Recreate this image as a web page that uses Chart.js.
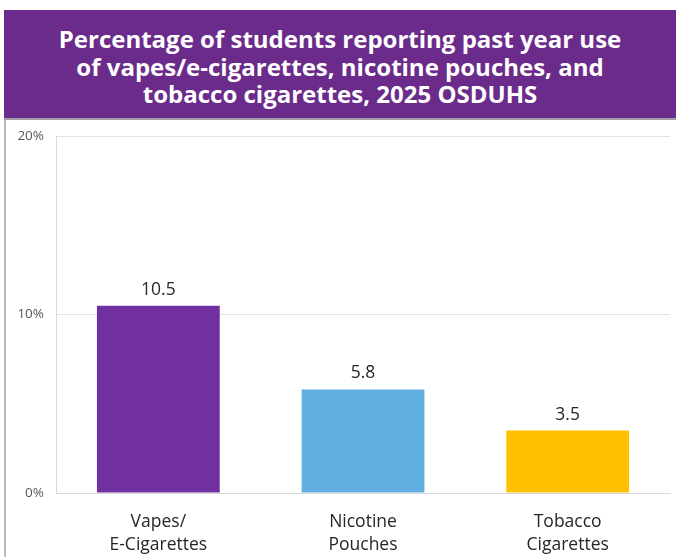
<!DOCTYPE html>
<html>
<head>
<meta charset="utf-8">
<script src="https://cdn.jsdelivr.net/npm/chart.js@4.4.1/dist/chart.umd.min.js"></script>
<style>
  html, body { margin: 0; padding: 0; background: #fff; width: 676px; height: 557px; overflow: hidden; }
  #header {
    position: absolute; left: 4px; top: 10px; width: 672px; height: 110px; z-index: 2;
    background: #6b2b8b; color: #fff; border-bottom: 2px solid #a49aa8;
    font-family: "Open Sans", sans-serif; font-weight: 700; font-size: 24px; line-height: 27.5px;
    text-align: center; box-sizing: border-box; padding-top: 15px;
  }
  #frame { position: absolute; left: 4px; top: 118px; width: 2px; height: 439px; background: #b8b8b8; }
  #wrap { position: absolute; left: 6px; top: 116px; width: 670px; height: 441px; }
</style>
</head>
<body>
<div id="header">Percentage of students reporting past year use<br>of vapes/e-cigarettes, nicotine pouches, and<br>tobacco cigarettes, 2025 OSDUHS</div>
<div id="frame"></div>
<div id="wrap"><canvas id="chart" width="670" height="441"></canvas></div>
<script>
const categories = [["Vapes/", "E-Cigarettes"], ["Nicotine", "Pouches"], ["Tobacco", "Cigarettes"]];
const values = [10.5, 5.8, 3.5];
const barColors = ["#7030a0", "#62afe2", "#ffc000"];
const yTicks = [0, 10, 20];

// writes the value above each bar
const valueLabels = {
  id: "valueLabels",
  afterDatasetsDraw(chart) {
    const ctx = chart.ctx;
    const meta = chart.getDatasetMeta(0);
    ctx.save();
    ctx.font = "17.5px 'Open Sans', sans-serif";
    ctx.fillStyle = "#262626";
    ctx.textAlign = "center";
    ctx.textBaseline = "alphabetic";
    meta.data.forEach((bar, i) => {
      ctx.fillText(values[i].toFixed(1), bar.x, bar.y - 11);
    });
    ctx.restore();
  }
};

const ctx = document.getElementById("chart").getContext("2d");
new Chart(ctx, {
  type: "bar",
  data: {
    labels: categories,
    datasets: [{
      data: values,
      backgroundColor: barColors,
      barPercentage: 0.6,
      categoryPercentage: 1.0
    }]
  },
  options: {
    responsive: false,
    animation: false,
    layout: { padding: { top: 5, right: 6, left: 0, bottom: 0 } },
    plugins: { legend: { display: false }, tooltip: { enabled: false } },
    scales: {
      x: {
        grid: { display: false },
        border: { color: "#d9d9d9", width: 1 },
        ticks: {
          font: { family: "'Open Sans', sans-serif", size: 17.5, lineHeight: 1.35 },
          color: "#262626",
          padding: 9,
          maxRotation: 0
        },
        afterFit(scale) { scale.height = 64; }
      },
      y: {
        min: 0,
        max: 20,
        afterBuildTicks(scale) { scale.ticks = yTicks.map(v => ({ value: v })); },
        grid: { color: "#e3e3e3", drawTicks: false },
        border: { color: "#d9d9d9", width: 1 },
        ticks: {
          font: { family: "'Open Sans', sans-serif", size: 13.5 },
          color: "#595959",
          padding: 12,
          callback: v => v + "%"
        },
        afterFit(scale) { scale.width = 50; }
      }
    }
  },
  plugins: [valueLabels]
});
</script>
</body>
</html>
